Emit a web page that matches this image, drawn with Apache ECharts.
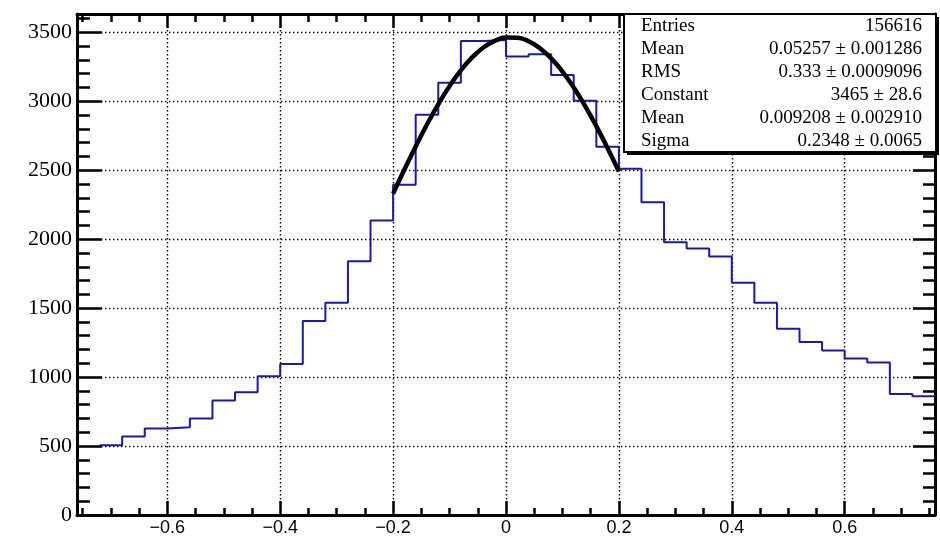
<!DOCTYPE html>
<html><head><meta charset="utf-8">
<script src="https://cdn.jsdelivr.net/npm/echarts@6/dist/echarts.min.js"></script>
<style>html,body{margin:0;padding:0;background:#fff}#c{width:940px;height:537px}</style>
</head><body><div id="c"></div>
<script>
// Histogram bins (low edges, width 0.04)
const binLowEdges = [-0.72,-0.68,-0.64,-0.60,-0.56,-0.52,-0.48,-0.44,-0.40,-0.36,-0.32,-0.28,-0.24,-0.20,-0.16,-0.12,-0.08,-0.04,
  0.00,0.04,0.08,0.12,0.16,0.20,0.24,0.28,0.32,0.36,0.40,0.44,0.48,0.52,0.56,0.60,0.64,0.68,0.72];
const binCounts = [506,569,627,637,700,830,890,1006,1095,1406,1539,1840,2135,2395,2902,3134,3437,3445,
  3324,3341,3191,3004,2670,2510,2267,1978,1932,1874,1684,1539,1351,1254,1192,1134,1105,878,861];
const binWidth = 0.04;
// Fit curve
const fitX = [-0.20,-0.18,-0.16,-0.14,-0.12,-0.10,-0.08,-0.06,-0.04,-0.02,0.00,0.02,0.04,0.06,0.08,0.10,0.12,0.14,0.16,0.18,0.20];
const fitY = [2330,2505,2673,2832,2978,3110,3224,3318,3390,3438,3462,3461,3435,3385,3311,3216,3100,2967,2820,2659,2491];
// Axis ticks
const xMajorTicks = [-0.6,-0.4,-0.2,0,0.2,0.4,0.6];
const xMinorTicks = [-0.75,-0.7,-0.65,-0.6,-0.55,-0.5,-0.45,-0.4,-0.35,-0.3,-0.25,-0.2,-0.15,-0.1,-0.05,0,0.05,0.1,0.15,0.2,0.25,0.3,0.35,0.4,0.45,0.5,0.55,0.6,0.65,0.7,0.75];
const yMajorTicks = [0,500,1000,1500,2000,2500,3000,3500];
const yMinorTicks = [];
for (let v = 0; v <= 3600; v += 100) yMinorTicks.push(v);
// Stats box
const statNames = ['Entries','Mean','RMS','Constant','Mean','Sigma'];
const statValues = ['156616','0.05257 \u00b1 0.001286','0.333 \u00b1 0.0009096','3465 \u00b1 28.6','0.009208 \u00b1 0.002910','0.2348 \u00b1 0.0065'];

const histData = binLowEdges.map((x, i) => [x, binCounts[i]]);
histData.push([binLowEdges[binLowEdges.length - 1] + binWidth, binCounts[binCounts.length - 1]]);
const fitData = fitX.map((x, i) => [x, fitY[i]]);

const BLACK = '#000';
function xAx(pos, ticks, len, major) {
  return {
    type: 'value', min: -0.76, max: 0.76, position: pos,
    axisLine: { show: major, onZero: false, lineStyle: { color: BLACK, width: 3 } },
    axisTick: { show: true, inside: true, length: len, customValues: ticks, lineStyle: { color: BLACK, width: 2.5 } },
    axisLabel: (pos === 'bottom' && major) ? {
      show: true, customValues: xMajorTicks, color: BLACK, fontFamily: 'Liberation Sans', fontSize: 18, margin: 4,
      formatter: v => v === 0 ? '0' : (v < 0 ? '\u2212' + Math.abs(v).toFixed(1) : v.toFixed(1))
    } : { show: false },
    splitLine: (pos === 'bottom' && major) ? { show: true, lineStyle: { color: BLACK, width: 1.4, type: [1.4, 2.6] } } : { show: false }
  };
}
function yAx(pos, ticks, len, major) {
  return {
    type: 'value', min: 0, max: 3633, position: pos,
    axisLine: { show: major, onZero: false, lineStyle: { color: BLACK, width: 3 } },
    axisTick: { show: true, inside: true, length: len, customValues: ticks, lineStyle: { color: BLACK, width: 2.5 } },
    axisLabel: (pos === 'left' && major) ? {
      show: true, customValues: yMajorTicks, color: BLACK, fontFamily: 'Liberation Serif', fontSize: 22, margin: 5,
      formatter: v => String(Math.round(v))
    } : { show: false },
    splitLine: (pos === 'left' && major) ? { show: true, lineStyle: { color: BLACK, width: 1.4, type: [1.4, 2.6] } } : { show: false }
  };
}

const boxL = 624, boxT = 14, boxW = 312, boxH = 138;
const graphics = [
  { type: 'rect', shape: { x: boxL + 3, y: boxT + 3, width: boxW, height: boxH }, style: { fill: BLACK }, z: 100 },
  { type: 'rect', shape: { x: boxL, y: boxT, width: boxW, height: boxH }, style: { fill: '#fff', stroke: BLACK, lineWidth: 2 }, z: 101 }
];
statNames.forEach((n, i) => {
  graphics.push({ type: 'text', x: 641, y: 26 + 23 * i, z: 102,
    style: { text: n, fill: BLACK, font: '19px "Liberation Serif"', textAlign: 'left', textVerticalAlign: 'middle' } });
  graphics.push({ type: 'text', x: 922, y: 26 + 23 * i, z: 102,
    style: { text: statValues[i], fill: BLACK, font: '19px "Liberation Serif"', textAlign: 'right', textVerticalAlign: 'middle' } });
});

const chart = echarts.init(document.getElementById('c'), null, { renderer: 'canvas' });
chart.setOption({
  animation: false,
  backgroundColor: '#fff',
  grid: { left: 77, right: 5, top: 14, bottom: 21, containLabel: false },
  xAxis: [
    xAx('bottom', xMajorTicks, 14, true),
    xAx('bottom', xMinorTicks, 7, false),
    xAx('top', xMajorTicks, 14, true),
    xAx('top', xMinorTicks, 8, false)
  ],
  yAxis: [
    yAx('left', yMajorTicks, 25, true),
    yAx('left', yMinorTicks, 13, false),
    yAx('right', yMajorTicks, 22, true),
    yAx('right', yMinorTicks, 12, false)
  ],
  series: [
    { type: 'line', xAxisIndex: 0, yAxisIndex: 0, step: 'end', data: histData, showSymbol: false, symbol: 'none',
      lineStyle: { color: '#1a1aa8', width: 2 }, z: 5 },
    { type: 'line', xAxisIndex: 0, yAxisIndex: 0, smooth: true, data: fitData, showSymbol: false, symbol: 'none',
      lineStyle: { color: BLACK, width: 4.5 }, z: 6 }
  ],
  graphic: graphics
});
</script></body></html>
